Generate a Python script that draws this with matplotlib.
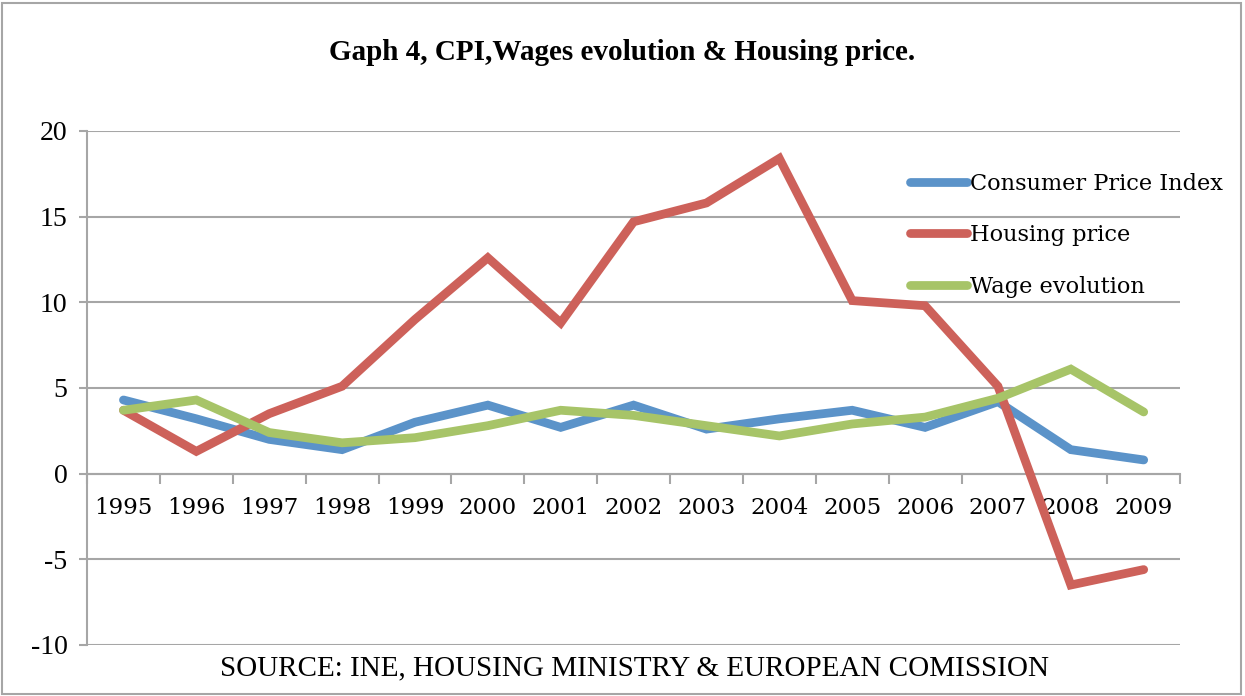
import numpy as np
import matplotlib
matplotlib.use("Agg")
from matplotlib import pyplot as plt
from matplotlib.patches import Rectangle

years = ["1995", "1996", "1997", "1998", "1999", "2000", "2001", "2002",
         "2003", "2004", "2005", "2006", "2007", "2008", "2009"]
cpi = [4.3, 3.2, 2.0, 1.4, 3.0, 4.0, 2.7, 4.0, 2.6, 3.2, 3.7, 2.7, 4.2, 1.4, 0.8]
housing = [3.7, 1.3, 3.5, 5.1, 9.0, 12.6, 8.8, 14.7, 15.8, 18.4, 10.1, 9.8, 5.1, -6.5, -5.6]
wages = [3.7, 4.3, 2.4, 1.8, 2.1, 2.8, 3.7, 3.4, 2.8, 2.2, 2.9, 3.3, 4.4, 6.1, 3.6]

yticks = [-10, -5, 0, 5, 10, 15, 20]

serif = "Liberation Serif"
grey = "#a6a6a6"

fig = plt.figure(figsize=(12.45, 6.96), dpi=100)
ax = fig.add_axes([0.0699, 0.0733, 0.878, 0.7385])

x = np.arange(len(years))
ax.plot(x, cpi, color="#5b93c9", lw=6.3, solid_capstyle="round",
        solid_joinstyle="miter", label="Consumer Price Index", zorder=3)
ax.plot(x, housing, color="#cd615a", lw=6.3, solid_capstyle="round",
        solid_joinstyle="miter", label="Housing price", zorder=4)
ax.plot(x, wages, color="#a7c468", lw=6.3, solid_capstyle="round",
        solid_joinstyle="miter", label="Wage evolution", zorder=5)

ax.set_xlim(-0.5, len(years) - 0.5)
ax.set_ylim(-10, 20)
ax.set_yticks(yticks)
ax.set_yticklabels([str(v) for v in yticks], fontfamily=serif, fontsize=20)
ax.grid(axis="y", color=grey, lw=1.5, zorder=0)

for s in ["top", "right"]:
    ax.spines[s].set_visible(False)
ax.spines["left"].set_color(grey)
ax.spines["left"].set_linewidth(1.5)
ax.spines["bottom"].set_position(("data", 0))
ax.spines["bottom"].set_color(grey)
ax.spines["bottom"].set_linewidth(1.5)

ax.set_xticks(x)
ax.set_xticklabels(years, fontfamily="DejaVu Serif", fontsize=16.5)
ax.set_xticks(np.arange(-0.5, len(years)), minor=True)
ax.tick_params(axis="x", which="major", length=0, pad=17)
ax.tick_params(axis="x", which="minor", length=7, width=1.5, color=grey, direction="out")
ax.tick_params(axis="y", length=6, width=1.5, color=grey, pad=8)

leg = ax.legend(loc="upper left", bbox_to_anchor=(910 / 1245, 1 - 173 / 696),
                bbox_transform=fig.transFigure, frameon=False,
                prop={"family": "DejaVu Serif", "size": 16.2},
                handlelength=2.55, handletextpad=0.1, labelspacing=1.3,
                borderaxespad=0, borderpad=0)

fig.text(0.5, 1 - 52 / 696, "Gaph 4, CPI,Wages evolution & Housing price.",
         ha="center", va="center", fontfamily=serif, fontweight="bold", fontsize=21)
fig.text(634 / 1245, 1 - 668 / 696, "SOURCE: INE, HOUSING MINISTRY & EUROPEAN COMISSION",
         ha="center", va="center", fontfamily=serif, fontsize=21)

fig.patches.append(Rectangle((2 / 1245, 2 / 696), 1239 / 1245, 691 / 696,
                             transform=fig.transFigure, fill=False,
                             edgecolor=grey, lw=1.5))

fig.savefig("out.png", dpi=100)
